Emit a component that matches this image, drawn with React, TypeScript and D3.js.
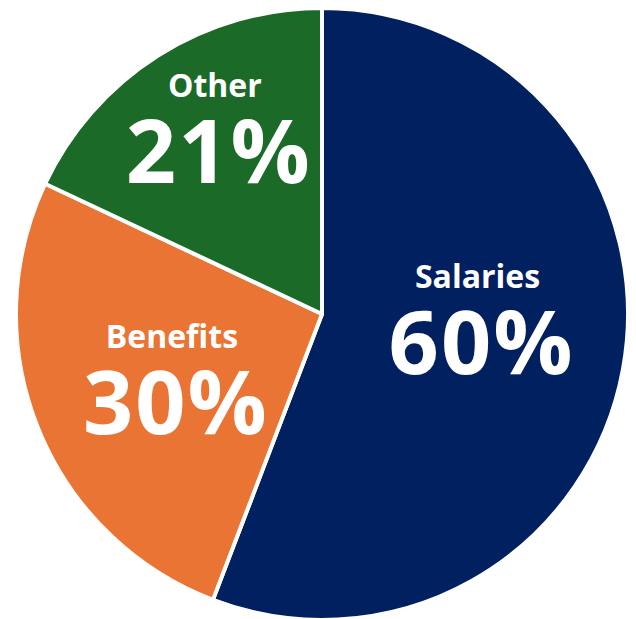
import { useRef, useEffect } from "react";
import * as d3 from "d3";

// slice shares (angles), printed labels as shown
const categories = ["Salaries", "Benefits", "Other"];
const sliceShares = [55.8, 26.2, 18.0];
const printedValues = [60, 30, 21];
const colors = ["#01205f", "#e97434", "#1b6a27"];

export default function App() {
  const svgRef = useRef<SVGSVGElement | null>(null);

  useEffect(() => {
    document.body.style.margin = "0";
    const width = 636;
    const height = 619;
    const cx = 322;
    const cy = 314;
    const radius = 306;

    const svg = d3.select(svgRef.current);
    svg.selectAll("*").remove();
    svg.attr("width", width).attr("height", height);

    const g = svg.append("g").attr("transform", `translate(${cx},${cy})`);

    const pie = d3
      .pie<number>()
      .sort(null)
      .value((d) => d);
    const arcs = pie(sliceShares);

    const arc = d3.arc<d3.PieArcDatum<number>>().innerRadius(0).outerRadius(radius);
    const labelArc = d3
      .arc<d3.PieArcDatum<number>>()
      .innerRadius(radius * 0.55)
      .outerRadius(radius * 0.55);

    g.selectAll("path.slice")
      .data(arcs)
      .join("path")
      .attr("class", "slice")
      .attr("d", arc)
      .attr("fill", (_, i) => colors[i])
      .attr("stroke", "#fff")
      .attr("stroke-width", 4)
      .attr("stroke-linejoin", "round");

    // small nudges so labels sit where the original put them
    const nudge: [number, number][] = [
      [-10, -13],
      [6, 14],
      [-17, -32],
    ];

    const labels = g
      .selectAll("g.label")
      .data(arcs)
      .join("g")
      .attr("class", "label")
      .attr("transform", (d, i) => {
        const [x, y] = labelArc.centroid(d);
        return `translate(${x + nudge[i][0]},${y + nudge[i][1]})`;
      });

    labels
      .append("text")
      .attr("text-anchor", "middle")
      .attr("y", -43)
      .attr("fill", "#fff")
      .style("font-family", "'Open Sans', sans-serif")
      .style("font-weight", "700")
      .style("font-size", "32px")
      .text((_, i) => categories[i]);

    labels
      .append("text")
      .attr("text-anchor", "middle")
      .attr("x", 4)
      .attr("y", 43)
      .attr("fill", "#fff")
      .style("font-family", "'Open Sans', sans-serif")
      .style("font-weight", "700")
      .style("font-size", "88px")
      .style("letter-spacing", "2px")
      .text((_, i) => `${printedValues[i]}%`);
  }, []);

  return (
    <div style={{ width: 636, height: 619, position: "relative", background: "#fff" }}>
      <svg ref={svgRef} style={{ position: "absolute", top: 0, left: 0 }} />
    </div>
  );
}
